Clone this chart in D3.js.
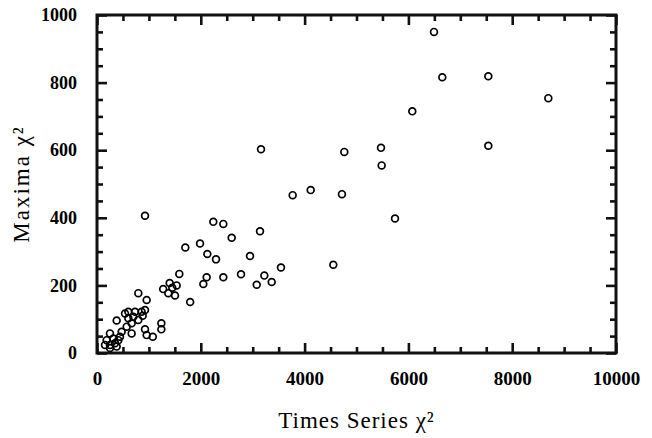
<!DOCTYPE html>
<html>
<head>
<meta charset="utf-8">
<style>
    body { margin: 0; }
    .lab text { font-family: "Liberation Serif", "Times New Roman", serif; font-weight: bold; fill: #000; }
    .title { font-family: "Liberation Serif", "Times New Roman", serif; font-size: 23px; fill: #000; }
</style>
<script src="https://d3js.org/d3.v7.min.js"></script>
</head>
<body>
<svg width="652" height="438"></svg>
<script>
// time-series chi2 vs maxima chi2
var seriesChi = [6493, 6653, 7540, 8696, 6075, 5472, 5485, 7540, 5742, 3160, 4765, 3770, 4117, 4720,
    925, 2241, 2434, 3141, 2595, 1985, 1702, 2126, 2293, 2948, 3545, 4553, 1586, 2113, 2434, 2775,
    3224, 3366, 3077, 2049, 1400, 1275, 1450, 1535, 1374, 1503, 1795, 796, 957, 925, 880,
    379, 540, 604, 732, 860, 604, 700, 668, 796, 572, 475, 668, 925, 957, 1075, 1240, 1240,
    250, 315, 186, 154, 250, 347, 411, 443, 250, 379];
var maximaChi = [950, 816, 819, 754, 715, 607, 555, 613, 398, 603, 595, 467, 482, 470,
    406, 388, 382, 360, 341, 324, 312, 293, 277, 287, 253, 261, 234, 224, 224, 233,
    229, 210, 202, 204, 207, 189, 193, 200, 177, 170, 151, 177, 157, 127, 110,
    96, 117, 122, 122, 122, 103, 107, 88, 98, 78, 63, 58, 70, 53, 48, 88, 70,
    58, 43, 38, 24, 24, 29, 38, 48, 15, 19];
var xTicks = [0, 2000, 4000, 6000, 8000, 10000];
var yTicks = [0, 200, 400, 600, 800, 1000];

var margin = {top: 15, bottom: 85, left: 97, right: 36};
var width = 652, height = 438;

var x = d3.scaleLinear().domain([0, 10000]).range([margin.left, width - margin.right]);
var y = d3.scaleLinear().domain([0, 1000]).range([height - margin.bottom, margin.top]);

var svg = d3.select("svg");
var minorX = d3.range(0, 10001, 500).filter(v => v % 2000 !== 0);
var minorY = d3.range(0, 1001, 50).filter(v => v % 200 !== 0);

// frame
svg.append("rect")
    .attr("x", x(0)).attr("y", y(1000))
    .attr("width", x(10000) - x(0)).attr("height", y(0) - y(1000))
    .attr("fill", "none").attr("stroke", "#111").attr("stroke-width", 3);

// inward ticks on all four sides, minor then major
function ticks(axisFn, scale, tx, ty) {
    [[minorX, minorY, 6], [xTicks, yTicks, 10]].forEach(function (t) {
        var vals = (scale === x) ? t[0] : t[1];
        var g = svg.append("g")
            .attr("transform", "translate(" + tx + "," + ty + ")")
            .call(axisFn(scale).tickValues(vals).tickSize(-t[2]).tickSizeOuter(0).tickFormat(""));
        g.selectAll("line").attr("stroke", "#111").attr("stroke-width", 2.6);
        g.select(".domain").remove();
    });
}
ticks(d3.axisBottom, x, 0, y(0));
ticks(d3.axisTop, x, 0, y(1000));
ticks(d3.axisLeft, y, x(0), 0);
ticks(d3.axisRight, y, x(10000), 0);

// tick labels
svg.append("g")
    .attr("class", "lab")
    .attr("transform", "translate(0," + y(0) + ")")
    .call(d3.axisBottom(x).tickValues(xTicks).tickSize(0).tickPadding(19).tickFormat(d3.format("d")))
    .attr("font-size", 19)
    .call(g => g.select(".domain").remove());
svg.append("g")
    .attr("class", "lab")
    .attr("transform", "translate(" + x(0) + ",0)")
    .call(d3.axisLeft(y).tickValues(yTicks).tickSize(0).tickPadding(20).tickFormat(d3.format("d")))
    .attr("font-size", 18)
    .call(g => g.select(".domain").remove());

svg.append("g").selectAll("circle")
    .data(seriesChi)
    .enter().append("circle")
    .attr("cx", d => x(d))
    .attr("cy", (d, i) => y(maximaChi[i]))
    .attr("r", 3.4)
    .attr("fill", "none")
    .attr("stroke", "black")
    .attr("stroke-width", 1.7);

svg.append("text")
    .attr("class", "title")
    .attr("x", (x(0) + x(10000)) / 2)
    .attr("y", 428)
    .attr("text-anchor", "middle")
    .attr("letter-spacing", 1)
    .text("Times Series \u03c7\u00b2");

svg.append("text")
    .attr("class", "title")
    .attr("transform", "translate(29," + (y(0) + y(1000)) / 2 + ") rotate(-90)")
    .attr("text-anchor", "middle")
    .attr("letter-spacing", 2)
    .text("Maxima \u03c7\u00b2");
</script>
</body>
</html>
